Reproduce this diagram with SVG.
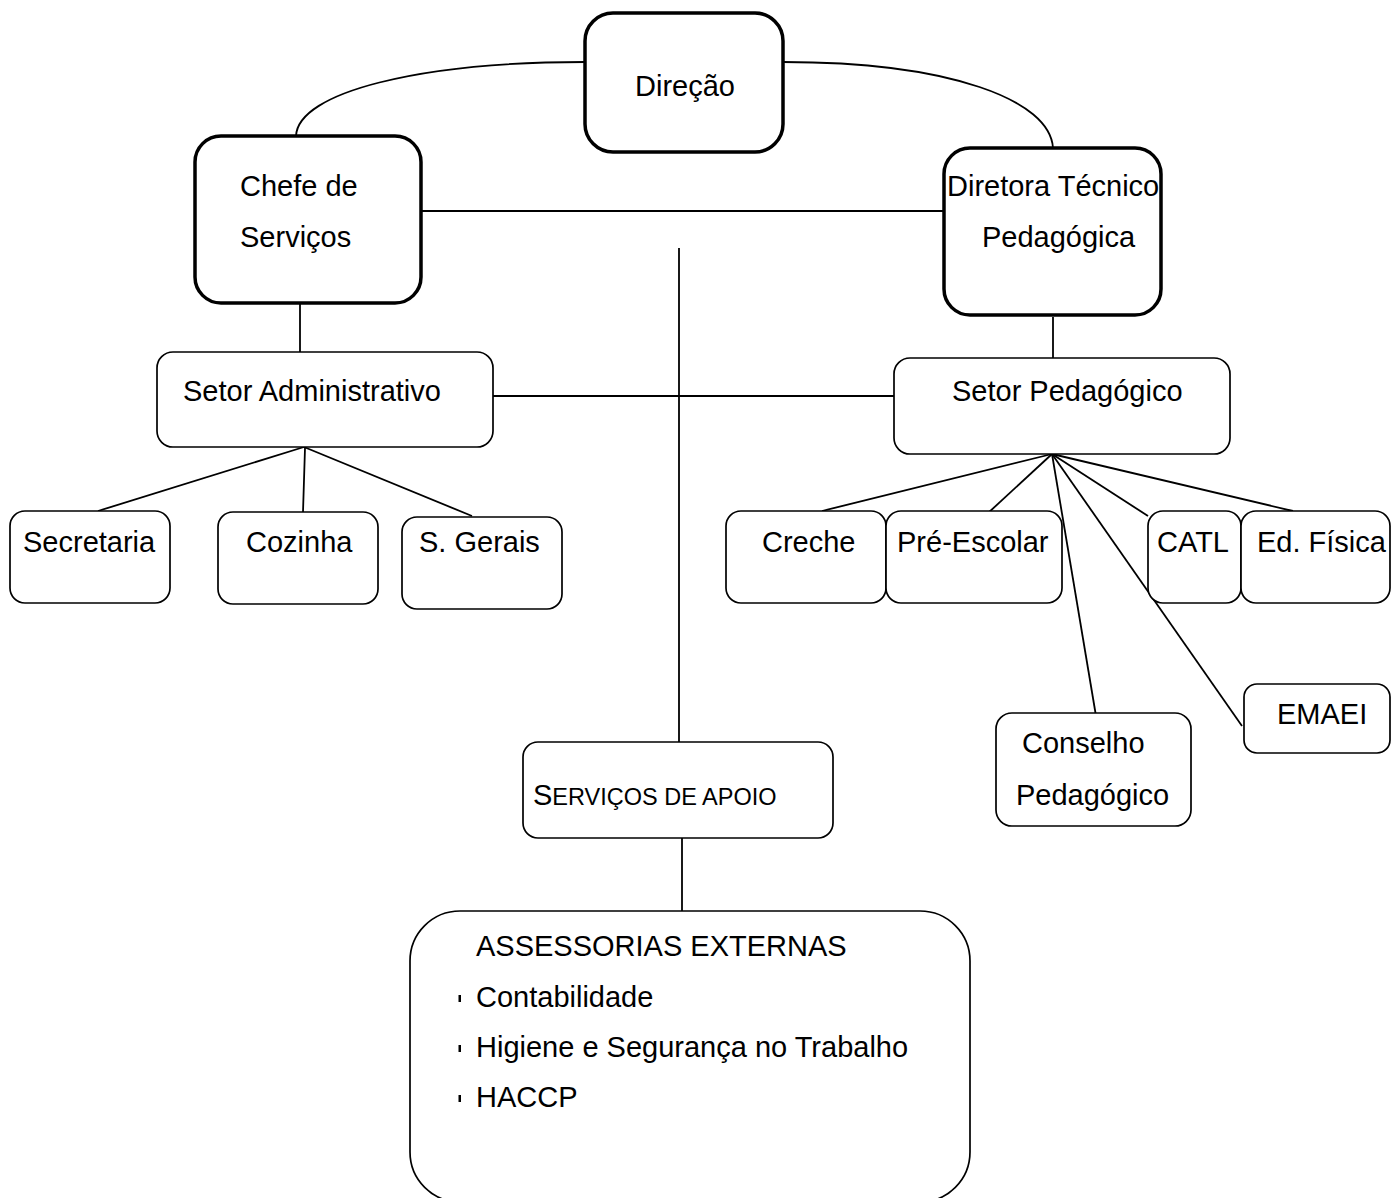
<svg xmlns="http://www.w3.org/2000/svg" width="1391" height="1198" viewBox="0 0 1391 1198">
<style>
text{font-family:"Liberation Sans",Arial,sans-serif;font-size:29px;fill:#000}
.thick{fill:#fff;stroke:#000;stroke-width:3.5}
.thin{fill:#fff;stroke:#000;stroke-width:1.7}
.conn{fill:none;stroke:#000;stroke-width:1.8}
.bullet{fill:#000}
</style>
<rect width="1391" height="1198" fill="#fff"/>
<g id="connectors">
<path class="conn" d="M585,62 C420,62 298,92 296,136"/>
<path class="conn" d="M783,62 C950,62 1050,100 1053,148"/>
<line class="conn" x1="421" y1="211" x2="944" y2="211"/>
<line class="conn" x1="679" y1="248" x2="679" y2="747"/>
<line class="conn" x1="300" y1="303" x2="300" y2="353"/>
<line class="conn" x1="1053" y1="317" x2="1053" y2="358"/>
<line class="conn" x1="488" y1="396" x2="894" y2="396"/>
<line class="conn" x1="304" y1="447" x2="98" y2="511"/>
<line class="conn" x1="305" y1="448" x2="303" y2="512"/>
<line class="conn" x1="304" y1="447" x2="472" y2="516"/>
<line class="conn" x1="1052" y1="454" x2="822" y2="511"/>
<line class="conn" x1="1052" y1="454" x2="987" y2="514"/>
<line class="conn" x1="1052" y1="454" x2="1096" y2="716"/>
<line class="conn" x1="1052" y1="454" x2="1242" y2="726"/>
<line class="conn" x1="1052" y1="454" x2="1148" y2="516"/>
<line class="conn" x1="1052" y1="454" x2="1293" y2="511"/>
<line class="conn" x1="682" y1="838" x2="682" y2="911"/>
</g>
<g id="direcao">
<rect class="thick" x="585" y="13" width="198" height="139" rx="28" stroke-width="4.5"/>
<text x="635" y="96">Direção</text>
</g>
<g id="chefe-servicos">
<rect class="thick" x="195" y="136" width="226" height="167" rx="26"/>
<text x="240" y="196">Chefe de</text>
<text x="240" y="247">Serviços</text>
</g>
<g id="diretora-tecnico">
<rect class="thick" x="944" y="148" width="217" height="167" rx="26"/>
<text x="947" y="196">Diretora Técnico</text>
<text x="982" y="247">Pedagógica</text>
</g>
<g id="setor-administrativo">
<rect class="thin" x="157" y="352" width="336" height="95" rx="16"/>
<text x="183" y="401">Setor Administrativo</text>
</g>
<g id="setor-pedagogico">
<rect class="thin" x="894" y="358" width="336" height="96" rx="16"/>
<text x="952" y="401">Setor Pedagógico</text>
</g>
<g id="secretaria">
<rect class="thin" x="10" y="511" width="160" height="92" rx="15"/>
<text x="23" y="552">Secretaria</text>
</g>
<g id="cozinha">
<rect class="thin" x="218" y="512" width="160" height="92" rx="15"/>
<text x="246" y="552">Cozinha</text>
</g>
<g id="s-gerais">
<rect class="thin" x="402" y="517" width="160" height="92" rx="15"/>
<text x="419" y="552">S. Gerais</text>
</g>
<g id="creche">
<rect class="thin" x="726" y="511" width="160" height="92" rx="15"/>
<text x="762" y="552">Creche</text>
</g>
<g id="pre-escolar">
<rect class="thin" x="886" y="511" width="176" height="92" rx="15"/>
<text x="897" y="552">Pré-Escolar</text>
</g>
<g id="catl">
<rect class="thin" x="1148" y="511" width="93" height="92" rx="15"/>
<text x="1157" y="552">CATL</text>
</g>
<g id="ed-fisica">
<rect class="thin" x="1241" y="511" width="149" height="92" rx="15"/>
<text x="1257" y="552">Ed. Física</text>
</g>
<g id="emaei">
<rect class="thin" x="1244" y="684" width="146" height="69" rx="13"/>
<text x="1277" y="724">EMAEI</text>
</g>
<g id="conselho-pedagogico">
<rect class="thin" x="996" y="713" width="195" height="113" rx="16"/>
<text x="1022" y="753">Conselho</text>
<text x="1016" y="805">Pedagógico</text>
</g>
<g id="servicos-apoio">
<rect class="thin" x="523" y="742" width="310" height="96" rx="15"/>
<text x="533" y="805">S<tspan font-size="23.5">ERVIÇOS DE APOIO</tspan></text>
</g>
<g id="assessorias-externas">
<rect class="thin" x="410" y="911" width="560" height="291" rx="50"/>
<text x="476" y="956">ASSESSORIAS EXTERNAS</text>
<rect class="bullet" x="458.5" y="995" width="2.5" height="7"/>
<text x="476" y="1007">Contabilidade</text>
<rect class="bullet" x="458.5" y="1045" width="2.5" height="7"/>
<text x="476" y="1057">Higiene e Segurança no Trabalho</text>
<rect class="bullet" x="458.5" y="1095" width="2.5" height="7"/>
<text x="476" y="1107">HACCP</text>
</g>
</svg>
